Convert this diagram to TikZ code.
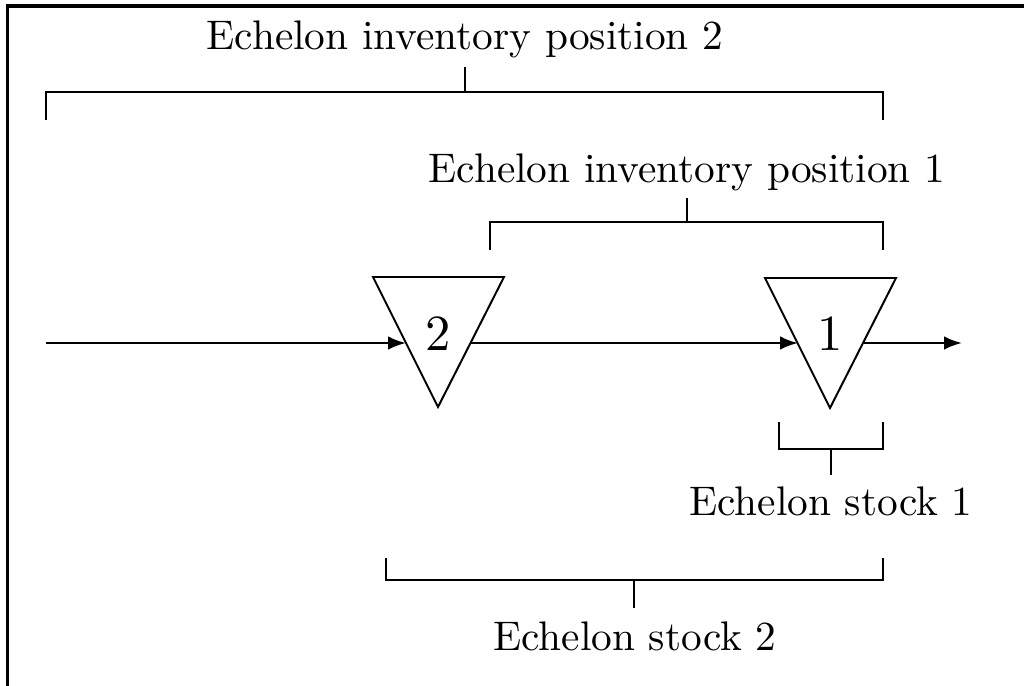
\documentclass[tikz,border=0pt]{standalone}
\usepackage{fontspec}
\setmainfont{lmroman10-regular.otf}
\usetikzlibrary{arrows.meta}
\tikzset{
  lbl/.style={anchor=base,inner sep=0pt,font=\fontsize{29.4}{35}\selectfont},
  digit/.style={anchor=base,inner sep=0pt,font=\fontsize{36}{42}\selectfont},
  brk/.style={line width=1.1pt},
  flow/.style={line width=1.7pt,-{Latex[length=0.45cm,width=0.34cm]}},
  tri/.style={line width=1.4pt,line join=miter},
  frame/.style={line width=2.2pt}
}
\begin{document}
\begin{tikzpicture}[x=0.025cm,y=-0.025cm]
\useasboundingbox (0,0) rectangle (1024,685);
% frame (left and top edges)
\draw[frame] (7.5,690) -- (7.5,6) -- (1030,6);

% labels
\node[lbl] (eip2) at (465,49) {Echelon inventory position 2};
\node[lbl] (eip1) at (687,182) {Echelon inventory position 1};
\node[lbl] (es1) at (831,515) {Echelon stock 1};
\node[lbl] (es2) at (635,650) {Echelon stock 2};

% triangles
\draw[tri] (373,277) -- (504,277) -- (438,407) -- cycle;
\draw[tri] (765,278) -- (896,278) -- (830,408) -- cycle;
\node[digit] (n2) at (438,350) {2};
\node[digit] (n1) at (830,350) {1};

% flow line
\coordinate (src) at (46,343);
\coordinate (in2) at (406,343);
\coordinate (out2) at (470,343);
\coordinate (in1) at (798,343);
\coordinate (out1) at (863,343);
\coordinate (sink) at (962,343);
\draw[flow] (src) -- (in2);
\draw[flow] (out2) -- (in1);
\draw[flow] (out1) -- (sink);

% bracket: echelon inventory position 2
\coordinate (a2) at (465,67);
\draw[brk] (46,120) -- (46,92) -- (883,92) -- (883,120);
\draw[brk] (465,92) -- (a2);

% bracket: echelon inventory position 1
\coordinate (a1) at (687,198);
\draw[brk] (490,250) -- (490,222) -- (883,222) -- (883,250);
\draw[brk] (687,222) -- (a1);

% bracket: echelon stock 1
\coordinate (s1) at (831,475);
\draw[brk] (779,422) -- (779,449) -- (883,449) -- (883,422);
\draw[brk] (831,449) -- (s1);

% bracket: echelon stock 2
\coordinate (s2) at (634,608);
\draw[brk] (386,558) -- (386,580) -- (883,580) -- (883,558);
\draw[brk] (634,580) -- (s2);
\end{tikzpicture}
\end{document}
